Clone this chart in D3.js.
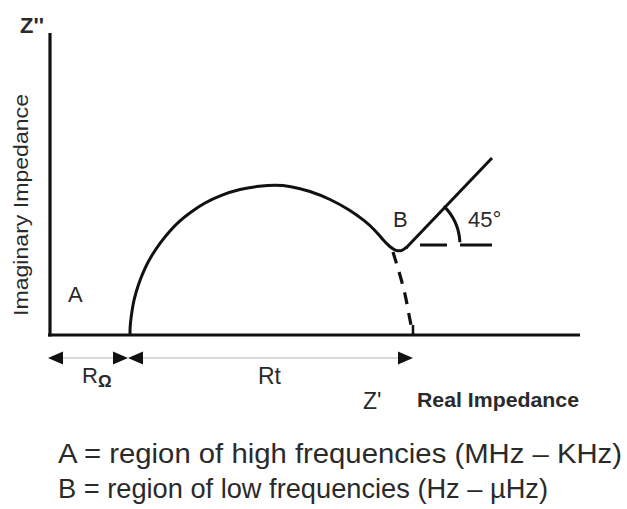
<!DOCTYPE html>
<html>
<head>
<meta charset="utf-8">
<script src="https://cdn.jsdelivr.net/npm/d3@7"></script>
<style>
  html, body { margin: 0; padding: 0; background: #fff; }
  svg { display: block; font-family: "Liberation Sans", Arial, sans-serif; }
</style>
</head>
<body>
<svg id="nyquist" width="627" height="509"></svg>
<script>
/**
 *   Nyquist plot sketch (impedance, arbitrary units)
 */

// Semicircle [Z', Z'']
var arcPoints = [
    [8, 0], [8, 0.8], [8.1, 1.7], [8.3, 3.1], [8.6, 4.3], [9, 5.5], [9.5, 6.7], [10, 7.7],
    [11, 9.2], [12, 10.45], [13, 11.45], [14, 12.25], [15.5, 13.25], [17, 13.95],
    [19, 14.6], [21, 14.9], [22.5, 15], [24, 14.9], [26, 14.4], [28, 13.6],
    [30, 12.5], [31.5, 11.4], [32.5, 10.5], [33.3, 9.5], [34, 8.8], [34.6, 8.4],
    [35.2, 8.4], [35.7, 8.8]
];
// Warburg tail at 45 degrees
var warburgLine = [[35.6, 8.7], [44.2, 17.7]];
// dashed extrapolation of the semicircle down to the real axis
var extrapolation = [[34.3, 8.3], [35.4, 4.5], [36.0, 1.5], [36.3, 0]];
// 45 degree reference: horizontal dashes and the angle arc
var refLevel = 9;
var refDashes = [[37, 39.7], [41, 44.2]];
var angleCentre = [35.5, 9];
var angleRadius = 5.5;

// resistance spans along the real axis
var spans = [
    { name: "R", sub: "\u03a9", from: 0, to: 8 },
    { name: "Rt", sub: "", from: 8, to: 36.5 }
];
var footnotes = [
    "A = region of high frequencies (MHz \u2013 KHz)",
    "B = region of low frequencies (Hz \u2013 \u00b5Hz)"
];
var footnoteWidths = [564, 490];

var svg = d3.select("#nyquist");
var x = d3.scaleLinear().domain([0, 53]).range([50, 580]);
var y = d3.scaleLinear().domain([0, 30]).range([335, 35]);
var ink = "#111";
var textInk = "#2a2a2a";

var line = d3.line()
    .x(function(d) { return x(d[0]); })
    .y(function(d) { return y(d[1]); });

// axes
svg.append("line")
    .attr("x1", x(0)).attr("x2", x(0))
    .attr("y1", y(0) + 1.5).attr("y2", y(30.2))
    .attr("stroke", ink).attr("stroke-width", 3.2);
svg.append("line")
    .attr("x1", x(-0.2)).attr("x2", x(53))
    .attr("y1", y(0)).attr("y2", y(0))
    .attr("stroke", ink).attr("stroke-width", 3.2);

// semicircle
svg.append("path")
    .attr("d", line.curve(d3.curveBasis)(arcPoints))
    .attr("fill", "none").attr("stroke", ink).attr("stroke-width", 3);
svg.append("path")
    .attr("d", d3.line().x(function(d) { return x(d[0]); }).y(function(d) { return y(d[1]); })(warburgLine))
    .attr("fill", "none").attr("stroke", ink).attr("stroke-width", 3);

// dashed extrapolation
svg.append("path")
    .attr("d", d3.line().curve(d3.curveCatmullRom)
        .x(function(d) { return x(d[0]); }).y(function(d) { return y(d[1]); })(extrapolation))
    .attr("fill", "none").attr("stroke", ink).attr("stroke-width", 3.2)
    .attr("stroke-dasharray", "12,9");
svg.append("line")
    .attr("x1", x(36.3)).attr("x2", x(36.3))
    .attr("y1", y(0)).attr("y2", y(1))
    .attr("stroke", ink).attr("stroke-width", 2.5);

// 45 degree marker
svg.selectAll(".ref-dash")
    .data(refDashes).enter().append("line")
    .attr("class", "ref-dash")
    .attr("x1", function(d) { return x(d[0]); })
    .attr("x2", function(d) { return x(d[1]); })
    .attr("y1", y(refLevel)).attr("y2", y(refLevel))
    .attr("stroke", ink).attr("stroke-width", 3);
var p = d3.path();
var r = x(angleRadius) - x(0);
p.arc(x(angleCentre[0]), y(angleCentre[1]), r, -Math.PI / 4, -0.05);
svg.append("path")
    .attr("d", p.toString())
    .attr("fill", "none").attr("stroke", ink).attr("stroke-width", 3);

// resistance spans with outward arrowheads
var arrowY = 358;
var span = svg.selectAll(".span")
    .data(spans).enter().append("g")
    .attr("class", "span");
span.append("line")
    .attr("x1", function(d) { return x(d.from) + 12; })
    .attr("x2", function(d) { return x(d.to) - 12; })
    .attr("y1", arrowY).attr("y2", arrowY)
    .attr("stroke", "#dadada").attr("stroke-width", 2);
span.append("path")
    .attr("d", function(d) {
        var a = x(d.from) - 2;
        return "M" + a + "," + arrowY + "L" + (a + 15) + "," + (arrowY - 6.5) + "L" + (a + 15) + "," + (arrowY + 6.5) + "Z";
    })
    .attr("fill", ink);
span.append("path")
    .attr("d", function(d) {
        var b = x(d.to) - 2;
        return "M" + b + "," + arrowY + "L" + (b - 15) + "," + (arrowY - 6.5) + "L" + (b - 15) + "," + (arrowY + 6.5) + "Z";
    })
    .attr("fill", ink);

// texts
function label(tx, ty, size, str) {
    return svg.append("text")
        .attr("x", tx).attr("y", ty)
        .attr("font-size", size)
        .attr("fill", textInk)
        .text(str);
}
var rOhm = svg.append("text")
    .attr("x", 82).attr("y", 383)
    .attr("font-size", 22).attr("fill", textInk);
rOhm.append("tspan").text(spans[0].name);
rOhm.append("tspan").attr("dy", 4).attr("font-size", 17).attr("font-weight", "bold").text(spans[0].sub);
label(258, 384, 23, spans[1].name);

label(363, 409, 23, "Z'");
label(417, 407, 20, "Real Impedance")
    .attr("font-weight", "bold")
    .attr("textLength", 162).attr("lengthAdjust", "spacingAndGlyphs");
label(20, 33, 22, "Z''").attr("font-weight", "bold");
svg.append("text")
    .attr("transform", "translate(28,205) rotate(-90)")
    .attr("text-anchor", "middle")
    .attr("font-size", 21).attr("fill", textInk)
    .attr("textLength", 222).attr("lengthAdjust", "spacingAndGlyphs")
    .text("Imaginary Impedance");
label(68, 302, 22, "A");
label(393, 227, 22, "B");
label(468, 227, 22, "45\u00b0");

svg.selectAll(".footnote")
    .data(footnotes).enter().append("text")
    .attr("class", "footnote")
    .attr("x", 58)
    .attr("y", function(d, i) { return 463 + i * 35; })
    .attr("font-size", 28)
    .attr("fill", textInk)
    .attr("textLength", function(d, i) { return footnoteWidths[i]; })
    .attr("lengthAdjust", "spacingAndGlyphs")
    .text(function(d) { return d; });
</script>
</body>
</html>
